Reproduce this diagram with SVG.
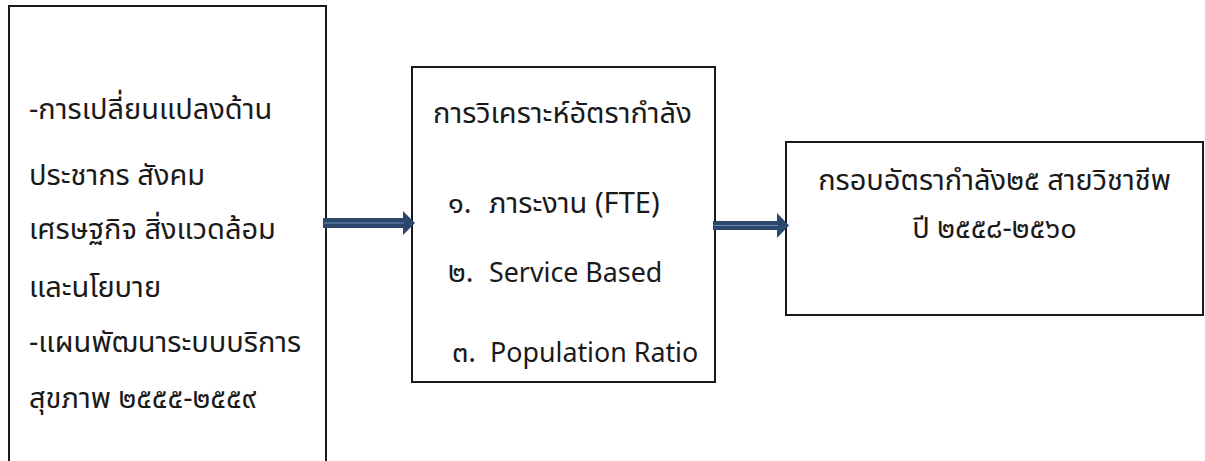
<svg xmlns="http://www.w3.org/2000/svg" width="1205" height="461" viewBox="0 0 1205 461">
  <style>
    .box { fill: #ffffff; stroke: #1a1a1a; stroke-width: 2; }
    .txt { font-family: "Noto Sans Thai", "Leelawadee UI", "Noto Sans", "DejaVu Sans", sans-serif; font-size: 29px; fill: #1a1a1a; }
    .lat { font-size: 26.8px; }
    .arrow { fill: #2c466c; }
    .shine { stroke: #6a8bb8; stroke-width: 1; }
  </style>
  <rect width="1205" height="461" fill="#ffffff"/>

  <!-- input factors -->
  <g id="node-factors">
    <rect class="box" x="9" y="6" width="317" height="470"/>
    <text class="txt" x="29" y="119">-การเปลี่ยนแปลงด้าน</text>
    <text class="txt" x="29" y="185">ประชากร สังคม</text>
    <text class="txt" x="29" y="239">เศรษฐกิจ สิ่งแวดล้อม</text>
    <text class="txt" x="29" y="297">และนโยบาย</text>
    <text class="txt" x="29" y="352">-แผนพัฒนาระบบบริการ</text>
    <text class="txt" x="29" y="408">สุขภาพ ๒๕๕๕-๒๕๕๙</text>
  </g>

  <!-- analysis methods -->
  <g id="node-analysis">
    <rect class="box" x="412" y="67" width="303" height="315"/>
    <text class="txt" x="433" y="123">การวิเคราะห์อัตรากำลัง</text>
    <text class="txt" y="213"><tspan x="448">๑.</tspan><tspan x="489">ภาระงาน (FTE)</tspan></text>
    <text class="txt" y="282"><tspan x="448">๒.</tspan><tspan class="lat" x="489">Service Based</tspan></text>
    <text class="txt" y="362"><tspan x="452">๓.</tspan><tspan class="lat" x="490">Population Ratio</tspan></text>
  </g>

  <!-- resulting framework -->
  <g id="node-framework">
    <rect class="box" x="786" y="142" width="417" height="173"/>
    <text class="txt" x="994.5" y="190" text-anchor="middle">กรอบอัตรากำลัง๒๕ สายวิชาชีพ</text>
    <text class="txt" x="994.5" y="238" text-anchor="middle">ปี ๒๕๕๘-๒๕๖๐</text>
  </g>

  <!-- block arrows between stages -->
  <g id="connectors">
    <path class="arrow" d="M323,218 H403 V211 L415,223 L403,235 V228 H323 Z"/>
    <line class="shine" x1="324" y1="223" x2="404" y2="223"/>
    <path class="arrow" d="M713,221 H777 V213 L789,225.5 L777,238 V230 H713 Z"/>
    <line class="shine" x1="714" y1="225.5" x2="778" y2="225.5"/>
  </g>
</svg>
